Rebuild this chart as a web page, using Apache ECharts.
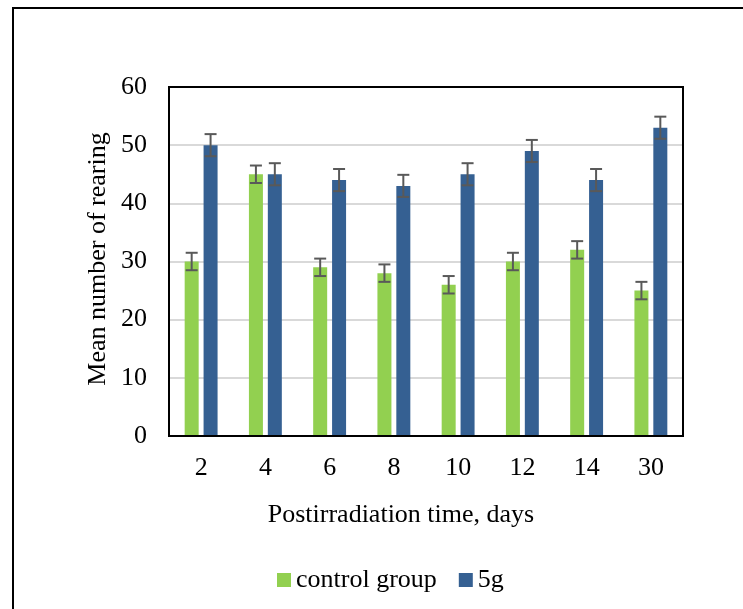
<!DOCTYPE html>
<html><head><meta charset="utf-8">
<script src="https://cdn.jsdelivr.net/npm/echarts@6/dist/echarts.min.js"></script>
<style>html,body{margin:0;padding:0;background:#fff}#c{width:743px;height:609px}</style>
</head><body><div id="c"></div>
<script>
const categories = ['2','4','6','8','10','12','14','30'];
const controlValues = [30, 45, 29, 28, 26, 30, 32, 25];
const g5Values = [50, 45, 44, 43, 45, 49, 44, 53];
const controlErr = [1.5, 1.5, 1.5, 1.5, 1.5, 1.5, 1.5, 1.5];
const g5Err = [1.9, 1.9, 1.9, 1.9, 1.9, 1.9, 1.9, 1.9];
const yTicks = [0, 10, 20, 30, 40, 50, 60];

const FONT = 'Liberation Serif';
const FS = 26;
const BAR_W = 14, GAP_RATIO = 0.35;
const OFF = (BAR_W + BAR_W * GAP_RATIO) / 2;

function errSeries(vals, errs, dir) {
  return {
    type: 'custom',
    data: vals.map((v, i) => [i, v, errs[i]]),
    z: 10,
    silent: true,
    renderItem: function (params, api) {
      const i = api.value(0), v = api.value(1), e = api.value(2);
      const top = api.coord([i, v + e]);
      const bot = api.coord([i, v - e]);
      const x = top[0] + dir * OFF;
      const cw = 6;
      const st = { stroke: '#595959', lineWidth: 2 };
      return { type: 'group', children: [
        { type: 'line', shape: { x1: x, y1: top[1], x2: x, y2: bot[1] }, style: st },
        { type: 'line', shape: { x1: x - cw, y1: top[1], x2: x + cw, y2: top[1] }, style: st },
        { type: 'line', shape: { x1: x - cw, y1: bot[1], x2: x + cw, y2: bot[1] }, style: st }
      ]};
    }
  };
}

const chart = echarts.init(document.getElementById('c'), null, { renderer: 'canvas' });
chart.setOption({
  animation: false,
  backgroundColor: '#fff',
  grid: { left: 169, top: 87, width: 514, height: 349, show: true, borderColor: '#000', borderWidth: 2, backgroundColor: 'transparent', z: 5 },
  xAxis: {
    type: 'category', data: categories,
    axisLine: { show: false }, axisTick: { show: false },
    axisLabel: { fontFamily: FONT, fontSize: FS, color: '#000', margin: 19 }
  },
  yAxis: {
    type: 'value', min: yTicks[0], max: yTicks[yTicks.length - 1], interval: 10,
    axisLine: { show: false }, axisTick: { show: false },
    axisLabel: { fontFamily: FONT, fontSize: FS, color: '#000', margin: 22 },
    splitLine: { lineStyle: { color: '#d9d9d9', width: 2 } }
  },
  legend: {
    left: 272, top: 562, itemWidth: 14, itemHeight: 14, itemGap: 22,
    icon: 'rect',
    textStyle: { fontFamily: FONT, fontSize: FS, color: '#000' },
    data: ['control group', '5g']
  },
  graphic: [
    { type: 'rect', shape: { x: 13, y: 8, width: 1000, height: 1000 }, style: { fill: 'none', stroke: '#000', lineWidth: 2 }, z: 100 },
    { type: 'text', x: 98, y: 259, rotation: Math.PI / 2, style: { text: 'Mean number of rearing', fontFamily: FONT, fontSize: FS, fill: '#000', align: 'center', verticalAlign: 'middle' } },
    { type: 'text', x: 401, y: 515, style: { text: 'Postirradiation time, days', fontFamily: FONT, fontSize: FS, fill: '#000', align: 'center', verticalAlign: 'middle' } }
  ],
  series: [
    { name: 'control group', type: 'bar', data: controlValues, barWidth: BAR_W, barGap: (GAP_RATIO * 100) + '%', itemStyle: { color: '#92d050' } },
    { name: '5g', type: 'bar', data: g5Values, barWidth: BAR_W, itemStyle: { color: '#356092' } },
    errSeries(controlValues, controlErr, -1),
    errSeries(g5Values, g5Err, 1)
  ]
});
</script></body></html>
